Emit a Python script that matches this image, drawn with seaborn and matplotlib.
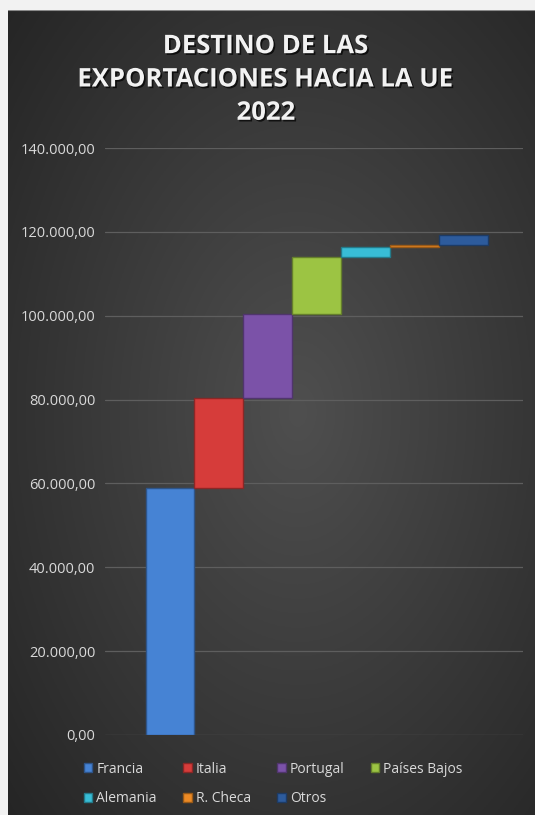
import numpy as np
import pandas as pd
import matplotlib
matplotlib.use("Agg")
import matplotlib.pyplot as plt
import matplotlib.patheffects as pe
from matplotlib.patches import Patch
from matplotlib.colors import to_rgb
import seaborn as sns

# ---- data ----
paises = ["Francia", "Italia", "Portugal", "Países Bajos", "Alemania", "R. Checa", "Otros"]
valores = [58900, 21500, 20000, 13700, 2200, 600, 2400]
colores = ["#4683d4", "#d63c3a", "#7b52a8", "#9cc443", "#38bdd6", "#ec8a25", "#2d5b9c"]
y_ticks = [0, 20000, 40000, 60000, 80000, 100000, 120000, 140000]
titulo = "DESTINO DE LAS\nEXPORTACIONES HACIA LA UE\n2022"

bases = np.concatenate([[0], np.cumsum(valores)[:-1]])
df = pd.DataFrame({"pais": paises, "valor": valores, "base": bases})

sns.set_theme(style="dark")
plt.rcParams['font.family'] = ['Open Sans', 'DejaVu Sans']

W, H = 535, 815
fig = plt.figure(figsize=(W / 100, H / 100), dpi=100, facecolor="#f2f2f2")

# dark background with radial gradient
bg = fig.add_axes([8 / W, 0, 1 - 8 / W, 1 - 10 / H])
bg.set_axis_off()
yy, xx = np.mgrid[0:1:400j, 0:1:300j]
r = np.sqrt(((xx - 0.55) / 0.75) ** 2 + ((yy - 0.5) / 0.75) ** 2)
t = np.clip(r, 0, 1)
c_in = np.array(to_rgb("#4f4f4f"))
c_out = np.array(to_rgb("#252525"))
img = c_in[None, None, :] * (1 - t[..., None]) + c_out[None, None, :] * t[..., None]
bg.imshow(img, aspect="auto", extent=[0, 1, 0, 1])
bg.axhline(1, color="#8a8a8a", lw=1.5)

ax = fig.add_axes([105 / W, 1 - 735 / H, (523 - 105) / W, (735 - 148) / H])
ax.set_facecolor("none")

sns.barplot(data=df, x="pais", y="valor", hue="pais", palette=colores, saturation=1,
            width=1.0, ax=ax, legend=False, linewidth=1.0)

def darker(c, f=0.65):
    return tuple(np.array(to_rgb(c)) * f)

for patch, b, c in zip(ax.patches, bases, colores):
    patch.set_y(b)
    patch.set_edgecolor(darker(c))
    patch.set_zorder(3)

ax.set_ylim(0, 140000)
ax.set_xlim(-1.33, 7.22)
ax.set_yticks(y_ticks)
ax.set_yticklabels([f"{v:,.2f}".replace(",", "X").replace(".", ",").replace("X", ".") for v in y_ticks])
ax.set_xticks([])
ax.set_xlabel("")
ax.set_ylabel("")
ax.tick_params(axis="y", length=0, pad=7, labelsize=10.5, labelcolor="#d9d9d9")
ax.yaxis.grid(True, color="#5e5e5e", lw=0.9)
ax.set_axisbelow(True)
for s in ax.spines.values():
    s.set_visible(False)

fig.text(266 / W, 1 - 79 / H, titulo, ha="center", va="center", fontsize=18.5,
         fontweight="bold", color="#f2f2f2", linespacing=1.3,
         path_effects=[pe.withSimplePatchShadow(offset=(1.2, -1.2), shadow_rgbFace="black", alpha=0.7)])

handles = [Patch(facecolor=c, edgecolor=darker(c), label=p) for p, c in zip(paises, colores)]
order = [0, 4, 1, 5, 2, 6, 3]
fig.legend([handles[i] for i in order], [paises[i] for i in order],
           loc="center", bbox_to_anchor=(0.511, 1 - 784 / H), ncol=4, frameon=False,
           fontsize=10, labelcolor="#d9d9d9", handlelength=0.6, handleheight=0.6,
           handletextpad=0.3, columnspacing=1.9, labelspacing=1.05)

fig.savefig("out.png", dpi=100, facecolor=fig.get_facecolor())
